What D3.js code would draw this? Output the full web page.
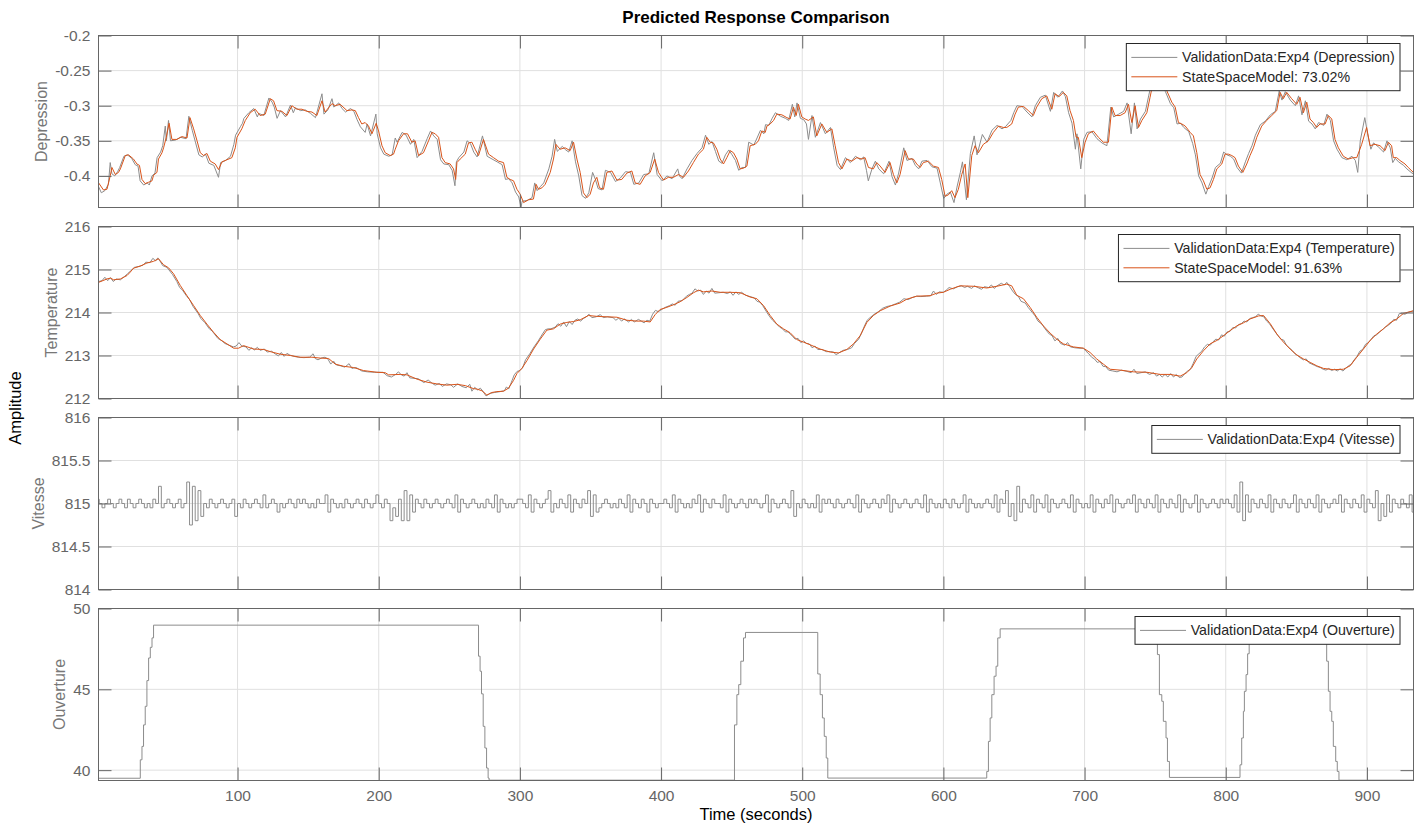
<!DOCTYPE html>
<html>
<head>
<meta charset="utf-8">
<script src="https://cdn.jsdelivr.net/npm/d3@7"></script>
<style>
  body { margin: 0; background: #fff; }
  svg { display: block; font-family: "Liberation Sans", Arial, Helvetica, sans-serif; }
</style>
</head>
<body>
<svg id="chart"></svg>
<script>
// ---- data ([time s, value]) ----
const depressionMeasured = [[1.5,-0.415],[3.5,-0.424],[6,-0.421],[8.5,-0.412],[9.8,-0.381],[11,-0.397],[13,-0.40],[15,-0.394],[16.5,-0.388],[19.5,-0.372],[22,-0.37],[25,-0.375],[27.5,-0.384],[29.5,-0.386],[31,-0.407],[33.5,-0.413],[36,-0.41],[37.5,-0.413],[39.4,-0.400],[41.5,-0.396],[43,-0.374],[45.5,-0.366],[47,-0.357],[48.8,-0.329],[49.6,-0.35],[51.1,-0.321],[52.5,-0.35],[56,-0.349],[59.5,-0.345],[63.5,-0.347],[65.5,-0.315],[67.9,-0.335],[70.3,-0.353],[72.6,-0.37],[75,-0.373],[77.3,-0.369],[79.7,-0.382],[83.2,-0.385],[86.5,-0.402],[88,-0.381],[91.5,-0.378],[95,-0.372],[97.4,-0.355],[98.6,-0.342],[102,-0.33],[103.5,-0.325],[104.5,-0.318],[108,-0.31],[111.5,-0.304],[114,-0.316],[115,-0.311],[118.6,-0.314],[122.2,-0.289],[124.5,-0.295],[126,-0.302],[128,-0.318],[130.4,-0.307],[134,-0.316],[137.5,-0.299],[139.5,-0.31],[141,-0.303],[144.6,-0.307],[148,-0.306],[151.7,-0.311],[155.2,-0.317],[159.8,-0.283],[161.2,-0.312],[164,-0.306],[166.9,-0.29],[168.2,-0.302],[171.7,-0.296],[174,-0.304],[176.5,-0.309],[180,-0.304],[182.4,-0.308],[184.7,-0.32],[187,-0.33],[190.4,-0.338],[191.8,-0.326],[194.2,-0.343],[198,-0.312],[198.9,-0.34],[201.3,-0.36],[203.6,-0.369],[207.1,-0.372],[209.5,-0.37],[211.7,-0.346],[213,-0.352],[216.6,-0.338],[219.4,-0.342],[222.5,-0.355],[224.8,-0.348],[227.2,-0.374],[230.7,-0.365],[234.3,-0.347],[236.7,-0.336],[239,-0.343],[241.4,-0.348],[243.8,-0.377],[246.1,-0.383],[249.6,-0.384],[252,-0.392],[254,-0.414],[255,-0.38],[256.7,-0.374],[260.3,-0.366],[262.6,-0.35],[265,-0.354],[267.3,-0.366],[269.7,-0.373],[273.5,-0.343],[276.8,-0.372],[280.3,-0.376],[283.9,-0.38],[287.4,-0.384],[289.8,-0.405],[292.1,-0.404],[294.5,-0.41],[296.9,-0.423],[299.2,-0.43],[300.8,-0.445],[301.6,-0.436],[305.1,-0.435],[308.6,-0.431],[310.5,-0.41],[312.2,-0.421],[314.6,-0.415],[316.9,-0.41],[320.5,-0.39],[322.8,-0.372],[324.6,-0.348],[326.5,-0.365],[330,-0.358],[332.5,-0.363],[334.6,-0.366],[337,-0.35],[339.4,-0.38],[341.7,-0.4],[344,-0.428],[346.5,-0.432],[348.8,-0.424],[351.5,-0.395],[353.5,-0.405],[355.4,-0.418],[358.2,-0.42],[360.6,-0.392],[364.2,-0.395],[367.7,-0.408],[371.2,-0.403],[374.8,-0.394],[378.3,-0.395],[380.7,-0.412],[384.2,-0.41],[387.7,-0.398],[391.3,-0.397],[394.8,-0.367],[397.2,-0.398],[400.7,-0.407],[404.2,-0.4],[407.8,-0.404],[411.8,-0.39],[413,-0.4],[414.9,-0.404],[418.4,-0.39],[421.9,-0.378],[425.5,-0.368],[429,-0.36],[431.5,-0.342],[433.8,-0.355],[436.1,-0.351],[438.5,-0.365],[440.9,-0.379],[443.2,-0.382],[445.6,-0.37],[448,-0.363],[450.3,-0.37],[452.7,-0.378],[455,-0.392],[457.4,-0.388],[459.8,-0.388],[462.1,-0.352],[465.7,-0.356],[468,-0.346],[470.4,-0.335],[472.8,-0.34],[474,-0.327],[476.3,-0.328],[478.7,-0.318],[481,-0.31],[484.6,-0.315],[488.1,-0.318],[490.4,-0.321],[493,-0.298],[494.7,-0.316],[496.3,-0.296],[498.7,-0.318],[501.1,-0.32],[503,-0.326],[504.4,-0.348],[506.9,-0.314],[509.3,-0.345],[512.9,-0.324],[516.4,-0.34],[520,-0.331],[522.3,-0.36],[524.7,-0.385],[527.1,-0.391],[530.6,-0.374],[534.1,-0.381],[537.7,-0.372],[541.2,-0.377],[543.5,-0.373],[545.5,-0.392],[546.8,-0.407],[549.4,-0.39],[551.8,-0.379],[554.2,-0.39],[557.7,-0.397],[561.5,-0.379],[563.6,-0.401],[566,-0.413],[568.3,-0.396],[571.9,-0.36],[574.2,-0.378],[577.7,-0.375],[580.1,-0.385],[582.5,-0.39],[584.8,-0.379],[588.4,-0.378],[591.9,-0.387],[595.5,-0.389],[597.8,-0.41],[600.2,-0.432],[602.5,-0.426],[604.9,-0.423],[607.5,-0.438],[609.6,-0.416],[612,-0.395],[613.5,-0.38],[616.3,-0.434],[619.1,-0.368],[621.8,-0.343],[623.8,-0.37],[627.6,-0.341],[630.9,-0.352],[634.4,-0.335],[638,-0.328],[641.5,-0.333],[643.9,-0.33],[647.8,-0.321],[649.8,-0.31],[652.1,-0.3],[655.7,-0.301],[659.2,-0.309],[662.7,-0.316],[665.1,-0.3],[668.7,-0.288],[672.2,-0.285],[675.8,-0.308],[678.1,-0.281],[681,-0.288],[684.3,-0.279],[686.4,-0.287],[688.7,-0.31],[691.1,-0.325],[693.5,-0.362],[694.6,-0.34],[697.3,-0.39],[699.4,-0.348],[701.7,-0.338],[705.2,-0.337],[708.8,-0.347],[712.3,-0.353],[715.8,-0.357],[718.6,-0.302],[720.6,-0.316],[724.2,-0.312],[727.7,-0.308],[730.1,-0.296],[733,-0.34],[735.3,-0.296],[737.2,-0.333],[739.6,-0.319],[743.1,-0.308],[745.4,-0.286],[746.6,-0.275],[748,-0.268],[751,-0.264],[754,-0.268],[757.3,-0.28],[760.8,-0.297],[763.2,-0.303],[765.5,-0.326],[767.9,-0.325],[770.3,-0.331],[773.8,-0.337],[776.6,-0.354],[778.5,-0.37],[780.8,-0.4],[783.2,-0.41],[785.9,-0.426],[787.9,-0.415],[790.3,-0.403],[792.7,-0.388],[796.2,-0.382],[798.5,-0.366],[800.9,-0.37],[803.3,-0.372],[805.6,-0.376],[808,-0.388],[811.1,-0.396],[813.9,-0.38],[816.2,-0.368],[818.6,-0.357],[821,-0.342],[824.5,-0.327],[828,-0.322],[831.6,-0.313],[835.1,-0.308],[837.9,-0.279],[839.8,-0.292],[842.2,-0.28],[845.7,-0.292],[849.3,-0.3],[851.6,-0.286],[854,-0.313],[856.4,-0.293],[858.7,-0.322],[861.1,-0.326],[863.4,-0.333],[865.8,-0.324],[869.4,-0.328],[871.7,-0.312],[874.1,-0.321],[876.4,-0.35],[878.8,-0.362],[882.3,-0.374],[885.8,-0.377],[889.4,-0.372],[891.8,-0.378],[893.5,-0.395],[895.3,-0.35],[898.5,-0.317],[900.5,-0.34],[902.8,-0.362],[904.7,-0.353],[908.3,-0.359],[911.8,-0.366],[914.2,-0.35],[916.5,-0.36],[918.3,-0.381],[920.1,-0.375],[922.4,-0.38],[926,-0.385],[928.3,-0.39],[931.9,-0.396],[933,-0.397]];

const depressionModel = [[1.6,-0.41],[5,-0.42],[7.5,-0.419],[9.8,-0.40],[11,-0.388],[13.4,-0.398],[15.7,-0.395],[17,-0.39],[20.5,-0.371],[22.8,-0.37],[26.3,-0.376],[28.7,-0.383],[30.5,-0.385],[32.3,-0.405],[34.6,-0.411],[37,-0.409],[39.4,-0.407],[40.5,-0.399],[42.9,-0.395],[44,-0.376],[46.5,-0.367],[47.6,-0.36],[49.5,-0.345],[51.5,-0.325],[53.5,-0.348],[57,-0.348],[60.6,-0.344],[64.2,-0.346],[66.3,-0.317],[68.9,-0.333],[71.3,-0.35],[73.6,-0.367],[76,-0.371],[78.3,-0.368],[80.7,-0.379],[84.2,-0.383],[86.5,-0.391],[89,-0.38],[92.5,-0.377],[96,-0.374],[98.4,-0.36],[99.6,-0.345],[103,-0.333],[105.5,-0.321],[109,-0.31],[112.5,-0.305],[116,-0.314],[119.6,-0.312],[123.2,-0.29],[125.5,-0.293],[127.9,-0.307],[131.4,-0.308],[135,-0.314],[138.5,-0.30],[142,-0.305],[145.6,-0.305],[149,-0.308],[152.7,-0.309],[156.2,-0.314],[159.8,-0.293],[162,-0.309],[166.9,-0.297],[169.2,-0.30],[172.7,-0.298],[177.5,-0.307],[181,-0.306],[183.4,-0.307],[185.7,-0.317],[188,-0.326],[190.4,-0.324],[192.8,-0.329],[195.2,-0.34],[198.2,-0.325],[199.9,-0.336],[202.3,-0.357],[204.6,-0.367],[208.1,-0.371],[210.5,-0.369],[211.7,-0.362],[214,-0.35],[217.6,-0.34],[220.4,-0.34],[223.5,-0.352],[225.8,-0.35],[228.2,-0.371],[231.7,-0.367],[235.3,-0.35],[237.7,-0.338],[240,-0.34],[242.4,-0.345],[244.8,-0.374],[247.1,-0.381],[250.6,-0.383],[253,-0.39],[254.5,-0.405],[255.4,-0.381],[257.7,-0.376],[261.3,-0.369],[263.6,-0.353],[266,-0.352],[268.3,-0.362],[270.7,-0.371],[274.2,-0.348],[277.8,-0.369],[281.3,-0.374],[284.9,-0.379],[288.4,-0.381],[290.8,-0.402],[293.1,-0.405],[295.5,-0.407],[297.9,-0.419],[300.2,-0.426],[302.6,-0.438],[306.1,-0.434],[309.6,-0.433],[311.5,-0.412],[313.2,-0.419],[315.6,-0.417],[317.9,-0.412],[321.5,-0.395],[323.8,-0.376],[325.5,-0.355],[328.5,-0.362],[332,-0.36],[335.6,-0.364],[338,-0.352],[340.4,-0.376],[342.7,-0.395],[345,-0.424],[347.5,-0.431],[349.8,-0.426],[352.1,-0.41],[354.5,-0.402],[356.4,-0.417],[359.2,-0.419],[361.6,-0.395],[365.2,-0.393],[368.7,-0.406],[372.2,-0.405],[375.8,-0.396],[379.3,-0.393],[381.7,-0.41],[385.2,-0.412],[388.7,-0.40],[392.3,-0.395],[395.5,-0.376],[398.2,-0.395],[401.7,-0.406],[405.2,-0.402],[408.8,-0.402],[412.3,-0.398],[415.9,-0.402],[419.4,-0.393],[422.9,-0.381],[426.5,-0.369],[430,-0.362],[432.4,-0.345],[434.8,-0.352],[437.1,-0.353],[439.5,-0.362],[441.9,-0.376],[444.2,-0.383],[446.6,-0.374],[449,-0.364],[451.3,-0.367],[453.7,-0.376],[456,-0.39],[458.4,-0.389],[460.8,-0.386],[463.1,-0.357],[466.7,-0.355],[469,-0.35],[471.4,-0.336],[473.8,-0.338],[475,-0.329],[477.3,-0.326],[479.7,-0.321],[482,-0.312],[485.6,-0.313],[489.1,-0.317],[491.4,-0.319],[493.8,-0.302],[495.7,-0.314],[497.3,-0.298],[499.7,-0.316],[502.1,-0.319],[504.4,-0.321],[507.9,-0.316],[510.3,-0.343],[513.9,-0.326],[517.4,-0.338],[521,-0.333],[523.3,-0.357],[525.7,-0.381],[528.1,-0.39],[531.6,-0.376],[535.1,-0.379],[538.7,-0.374],[542.2,-0.376],[544.5,-0.374],[546.9,-0.388],[550.4,-0.39],[552.8,-0.381],[555.2,-0.386],[558.7,-0.395],[562.2,-0.381],[564.6,-0.398],[567,-0.41],[569.3,-0.398],[572.9,-0.364],[575.2,-0.376],[578.7,-0.376],[581.1,-0.383],[583.5,-0.388],[585.8,-0.381],[589.4,-0.379],[592.9,-0.386],[596.5,-0.388],[598.8,-0.405],[601.2,-0.429],[603.5,-0.427],[605.9,-0.421],[608.2,-0.431],[610.6,-0.419],[613,-0.398],[615.4,-0.383],[617.3,-0.431],[620.1,-0.371],[622.4,-0.357],[624.8,-0.367],[628.3,-0.355],[631.9,-0.35],[635.4,-0.338],[639,-0.329],[642.5,-0.331],[644.9,-0.331],[648.4,-0.326],[650.8,-0.312],[653.1,-0.302],[656.7,-0.301],[660.2,-0.307],[663.7,-0.314],[666.1,-0.302],[669.7,-0.29],[673.2,-0.286],[676.8,-0.305],[679.1,-0.283],[682,-0.287],[685,-0.281],[687.4,-0.286],[689.7,-0.307],[692.1,-0.321],[694,-0.345],[695.6,-0.345],[698,-0.374],[700.4,-0.352],[702.7,-0.34],[706.2,-0.336],[709.8,-0.345],[713.3,-0.352],[716.9,-0.352],[719.3,-0.302],[721.6,-0.314],[725.2,-0.314],[728.7,-0.31],[731.1,-0.298],[733.5,-0.324],[735.8,-0.30],[738.2,-0.331],[740.6,-0.321],[744.1,-0.31],[746.4,-0.288],[747.6,-0.276],[748.8,-0.269],[752,-0.265],[755,-0.268],[758.3,-0.279],[761.8,-0.295],[764.2,-0.302],[766.5,-0.324],[768.9,-0.326],[771.3,-0.329],[774.8,-0.338],[777.1,-0.343],[779.5,-0.367],[781.8,-0.398],[784.2,-0.407],[786.6,-0.419],[788.9,-0.417],[791.3,-0.405],[793.7,-0.39],[797.2,-0.383],[799.5,-0.369],[801.9,-0.369],[804.3,-0.371],[806.6,-0.374],[809,-0.386],[812.1,-0.395],[814.9,-0.383],[817.2,-0.371],[819.6,-0.36],[822,-0.345],[825.5,-0.329],[829,-0.321],[832.6,-0.314],[836.1,-0.307],[838.5,-0.281],[840.8,-0.29],[843.2,-0.281],[846.7,-0.29],[850.3,-0.298],[852.6,-0.288],[855,-0.31],[857.4,-0.295],[859.7,-0.319],[862.1,-0.324],[864.4,-0.331],[866.8,-0.326],[870.4,-0.326],[872.7,-0.314],[875.1,-0.319],[877.4,-0.348],[879.8,-0.36],[883.3,-0.372],[886.8,-0.376],[890.4,-0.374],[892.8,-0.374],[896.3,-0.355],[899.8,-0.331],[902.2,-0.357],[905.7,-0.355],[909.3,-0.357],[912.8,-0.364],[915.2,-0.352],[917.5,-0.357],[918.7,-0.374],[921.1,-0.374],[923.4,-0.378],[927,-0.383],[929.3,-0.388],[932.9,-0.395]];

const temperatureMeasured = [[1.5,214.72],[4,214.74],[6,214.82],[8,214.74],[10,214.81],[12,214.72],[14,214.78],[17,214.76],[20,214.84],[22,214.9],[24,214.96],[27,215.05],[30,215.07],[33,215.1],[35,215.17],[38,215.16],[40,215.26],[42,215.2],[43.5,215.27],[45,215.2],[47,215.09],[50,215.05],[54,214.88],[57,214.72],[59,214.58],[61,214.52],[63.5,214.4],[66,214.3],[68.5,214.14],[72,213.98],[74,213.86],[77,213.76],[80,213.62],[82,213.57],[86,213.4],[89,213.34],[91,213.28],[94,213.24],[97,213.2],[99,213.22],[101,213.3],[103,213.22],[106,213.2],[108,213.12],[110,213.18],[112,213.13],[114,213.19],[116,213.12],[119,213.15],[121,213.08],[124,213.1],[127,213.03],[129,212.99],[131,213.07],[133,212.98],[135,213.05],[137,213.01],[140,212.98],[143,212.96],[147,212.95],[151,212.96],[153.5,213.04],[155,212.93],[157,212.9],[160,212.95],[162,212.96],[164,212.92],[166,212.8],[168,212.87],[170,212.78],[173,212.76],[176,212.73],[179,212.81],[181,212.7],[184,212.72],[188,212.64],[192,212.62],[197,212.61],[203,212.61],[206,212.53],[209,212.5],[212,212.56],[214,212.62],[216,212.55],[218,212.52],[220,212.6],[222,212.48],[225,212.47],[228,212.46],[232,212.37],[235,212.43],[238,212.35],[240,212.31],[243,212.35],[245,212.28],[248,212.34],[251,212.32],[253,212.26],[256,212.34],[259,212.28],[262,212.25],[264.5,212.33],[266,212.17],[268,212.26],[270,212.2],[272,212.24],[274,212.16],[276,212.06],[279,212.12],[282,212.14],[286,212.16],[289,212.18],[290.5,212.27],[292,212.22],[294,212.38],[296,212.55],[298,212.63],[300,212.65],[302,212.72],[304,212.9],[307,213.04],[310,213.2],[313,213.34],[316,213.5],[318,213.6],[320,213.62],[322,213.62],[325,213.66],[327,213.74],[329,213.68],[331,213.78],[333,213.67],[335,213.79],[337,213.72],[339,213.82],[341,213.85],[343,213.8],[345,213.86],[347,213.9],[349,213.96],[351,213.88],[354,213.9],[357,213.95],[359,213.88],[362,213.9],[366,213.88],[368,213.82],[370,213.87],[372,213.8],[374,213.85],[377,213.78],[379,213.84],[381,213.78],[384,213.84],[386,213.8],[388,213.76],[390,213.82],[392,213.8],[394,213.96],[396,214.05],[398,214.02],[401,214.08],[403,214.12],[406,214.16],[408,214.2],[410,214.17],[412,214.26],[415,214.28],[418,214.38],[420,214.42],[422,214.45],[424,214.55],[426,214.5],[428,214.52],[430,214.42],[432,214.5],[434,214.45],[436,214.56],[438,214.45],[441,214.46],[444,214.47],[447,214.44],[449,214.48],[451,214.4],[453,214.48],[455,214.42],[457,214.47],[460,214.4],[463,214.37],[466,214.34],[468,214.26],[470,214.24],[472,214.16],[475,214.0],[477,213.9],[479,213.82],[481,213.76],[484,213.66],[486,213.62],[488,213.55],[490,213.55],[493,213.45],[495,213.38],[497,213.4],[499,213.3],[501,213.34],[503,213.28],[505,213.27],[507,213.18],[509,213.22],[511,213.14],[514,213.14],[517,213.09],[520,213.09],[522,213.08],[524,213.02],[526,213.06],[529,213.12],[532,213.14],[535,213.18],[537,213.28],[540,213.38],[542,213.52],[544,213.68],[546,213.82],[548,213.88],[551,213.96],[554,214.02],[557,214.1],[560,214.14],[563,214.16],[566,214.2],[569,214.24],[572,214.32],[575,214.3],[578,214.35],[581,214.38],[584,214.37],[588,214.38],[591,214.39],[593,214.5],[595,214.42],[597,214.48],[600,214.47],[602,214.52],[604,214.58],[607,214.55],[610,214.6],[613,214.62],[615,214.58],[617,214.61],[620,214.56],[622,214.62],[625,214.57],[627,214.54],[629,214.6],[632,214.58],[634,214.64],[636,214.56],[638,214.62],[641,214.68],[643,214.64],[645,214.7],[647,214.6],[649,214.5],[651,214.42],[653,214.38],[655,214.26],[658,214.22],[660,214.12],[663,214.0],[665,213.92],[667,213.8],[670,213.72],[672,213.62],[675,213.5],[677,213.46],[679,213.34],[681,213.4],[683,213.28],[686,213.24],[688,213.3],[690,213.2],[693,213.18],[696,213.17],[699,213.17],[701,213.1],[703,213.04],[705,212.96],[707,212.92],[709,212.84],[711,212.86],[713,212.75],[715,212.74],[717,212.66],[720,212.64],[723,212.62],[726,212.66],[730,212.63],[733,212.6],[735,212.68],[737,212.58],[740,212.6],[743,212.62],[746,212.56],[749,212.6],[751,212.52],[753,212.56],[755,212.5],[757,212.56],[759,212.5],[761,212.58],[763,212.5],[765,212.56],[767,212.49],[769,212.5],[771,212.58],[773,212.64],[775,212.68],[777,212.82],[779,212.98],[781,213.04],[783,213.1],[785,213.2],[787,213.26],[789,213.24],[791,213.32],[793,213.38],[795,213.36],[797,213.48],[799,213.45],[801,213.55],[803,213.56],[805,213.65],[807,213.64],[809,213.72],[811,213.74],[813,213.8],[815,213.78],[817,213.86],[819,213.88],[821,213.9],[823,213.96],[825,213.92],[827,213.9],[829,213.8],[831,213.74],[833,213.64],[835,213.55],[837,213.46],[839,213.38],[841,213.36],[843,213.24],[845,213.18],[847,213.12],[849,213.04],[851,213.0],[853,212.94],[855,212.9],[857,212.92],[859,212.83],[861,212.8],[863,212.77],[865,212.74],[867,212.72],[869,212.68],[871,212.66],[873,212.7],[875,212.65],[877,212.68],[879,212.64],[881,212.69],[883,212.64],[885,212.7],[887,212.76],[889,212.8],[891,212.9],[893,212.98],[895,213.1],[897,213.14],[899,213.26],[901,213.3],[903,213.38],[905,213.46],[907,213.48],[909,213.55],[911,213.6],[913,213.66],[915,213.7],[917,213.75],[919,213.84],[921,213.82],[923,213.98],[925,213.97],[927,213.96],[929,214.0],[931,214.02],[933,214.04]];

const temperatureModel = [[1.5,214.70],[7.5,214.78],[10,214.80],[12.2,214.76],[17,214.78],[21.7,214.86],[24,214.94],[26.3,215.03],[31.1,215.08],[35.8,215.15],[40.5,215.19],[44,215.25],[47.6,215.11],[51.1,215.04],[54.7,214.90],[59.4,214.63],[64.2,214.39],[68.9,214.16],[73.6,213.93],[78.3,213.73],[83,213.54],[87.7,213.37],[92.5,213.27],[97.2,213.17],[100.7,213.17],[104.3,213.23],[111.4,213.15],[118.5,213.14],[123.2,213.09],[130.3,213.03],[137.4,213.0],[144.4,212.96],[152.7,212.96],[158.6,212.94],[164.5,212.93],[169.2,212.80],[175.1,212.75],[182.2,212.72],[189.2,212.65],[198.7,212.61],[204.6,212.60],[207,212.55],[215.2,212.56],[220,212.55],[227.1,212.45],[234.2,212.38],[241.2,212.34],[248.3,212.31],[255.4,212.33],[261.3,212.30],[267.1,212.23],[269.5,212.22],[273.1,212.18],[276.6,212.08],[280.2,212.14],[283.7,212.16],[288.4,212.17],[291.9,212.24],[295.5,212.42],[297.9,212.58],[301.4,212.70],[305,212.88],[309.7,213.15],[314.4,213.38],[319.1,213.59],[323.8,213.62],[328.5,213.73],[333.3,213.77],[338,213.79],[342.7,213.83],[348.6,213.93],[354.5,213.91],[361.6,213.90],[368.7,213.89],[375.8,213.82],[382.9,213.80],[387.5,213.80],[392.3,213.78],[395.8,213.95],[399.3,214.07],[404.1,214.12],[408.8,214.18],[413.5,214.25],[418.3,214.35],[423,214.46],[426.5,214.52],[430,214.48],[436,214.50],[441.9,214.47],[449,214.47],[456.1,214.46],[463.1,214.36],[467.9,214.32],[472.6,214.16],[477.3,213.93],[482,213.73],[486.7,213.62],[491.4,213.53],[496.2,213.37],[500.9,213.31],[505.6,213.25],[512.7,213.15],[519.8,213.08],[525.7,213.06],[531.6,213.14],[536.3,213.27],[541,213.46],[545.8,213.77],[550.4,213.93],[555.2,214.04],[562.3,214.15],[569.3,214.22],[574.1,214.31],[581.2,214.38],[590.6,214.39],[595.3,214.45],[600,214.47],[604.8,214.54],[611.8,214.62],[621.3,214.61],[630.7,214.57],[637.8,214.61],[644.9,214.66],[648.4,214.62],[652,214.40],[656.7,214.32],[661.4,214.12],[666.1,213.89],[670.8,213.69],[675.6,213.52],[680.3,213.38],[685,213.27],[692.1,213.20],[699.2,213.17],[703.9,213.07],[708.6,212.92],[713.3,212.80],[718.1,212.68],[725.2,212.66],[734.6,212.62],[744.1,212.61],[753.5,212.56],[760.6,212.56],[767.7,212.52],[772.4,212.60],[776,212.72],[779.5,212.92],[784.2,213.11],[788.9,213.27],[793.7,213.35],[798.4,213.46],[803.1,213.58],[807.9,213.69],[812.6,213.76],[817.3,213.85],[823.2,213.92],[826.8,213.93],[831.5,213.74],[836.2,213.50],[840.9,213.31],[845.6,213.15],[850.4,213.01],[855.1,212.92],[859.8,212.84],[864.5,212.76],[869.2,212.70],[876.3,212.67],[883.3,212.68],[888.1,212.76],[892.8,212.96],[897.5,213.15],[902.3,213.35],[907,213.50],[911.7,213.62],[916.4,213.76],[921.2,213.85],[925.9,213.98],[933,214.04]];

// Vitesse: one character per 2 s sample, hex digit d -> 814.75 + 0.05*d  ('5' = 815)
const vitesseStart = 0;
const vitesseStep = 2;
const vitesseCodes = [
  "6545654565" + "4654565454" + "6594565456" + "45a0918254" + "6545654562",
  "5465456547" + "4565354565" + "4656545465" + "5736545465" + "4565465457",
  "5465142618" + "1736546545" + "6545654736" + "5456545465" + "4736545456",
  "6547365456" + "8354654736" + "5465827345" + "6545465473" + "6546536545",
  "5654736545" + "4657365465" + "5473654565" + "4656545736" + "5456548254",
  "6545473656" + "5465456547" + "3654565465" + "7365456545" + "6547365454",
  "6546545736" + "5454565473" + "6582519365" + "4736547365" + "4565473654",
  "5473654657" + "3654565736" + "5465473654" + "6547365457" + "3654565465",
  "65473a1736" + "5465473654" + "6545736546" + "5473654565" + "7365465473",
  "6548152736" + "5465473654"
];

// Ouverture: stair steps [time s, value]
const ouverture = [[1.5,39.5],[31.1,40.64],[32.3,41.47],[33.4,42.8],[34.6,43.95],[35.8,45.54],[37.0,46.94],[38.2,47.6],[39.4,48.18],[40.5,48.97],[270.7,47.05],[271.8,46.12],[272.8,44.72],[274.0,42.71],[275.2,41.37],[276.4,40.13],[277.5,39.51],[278.2,39.38],[452,42.8],[453.7,44.67],[455.0,45.29],[456.5,46.74],[458.4,48.18],[459.8,48.52],[511,45.95],[512.7,44.67],[514.3,43.23],[515.6,42.09],[517,40.75],[518.1,39.51],[630.7,39.92],[631.9,41.78],[633.1,43.23],[634.3,44.67],[635.9,45.81],[637.3,46.43],[638.5,48.18],[640.2,48.74],[751.6,47.15],[753,44.67],[754.7,44.26],[755.8,43.02],[757.7,41.99],[758.7,40.54],[760.1,39.55],[810.1,40.33],[811.3,41.99],[812.5,43.64],[813.2,44.88],[814.4,45.91],[815.5,47.2],[816.6,48.3],[817.5,48.7],[871.5,46.74],[872.7,44.88],[873.9,43.64],[875.1,43.02],[876.2,41.47],[877.9,40.54],[879,39.92],[880.2,39.38],[933,39.38]];

const timeTicks = [100, 200, 300, 400, 500, 600, 700, 800, 900];
const depressionTicks = [-0.4, -0.35, -0.3, -0.25, -0.2];
const temperatureTicks = [212, 213, 214, 215, 216];
const vitesseTicks = [814, 814.5, 815, 815.5, 816];
const ouvertureTicks = [40, 45, 50];

const vitesse = [];
vitesseCodes.join("").split("").forEach((c, i) => {
    vitesse.push([vitesseStart + i * vitesseStep, 814.75 + 0.05 * parseInt(c, 16)]);
});

// ---- layout ----
const width = 1424, height = 831;
const left = 98.5, right = 1413.5, panelH = 172, panelStep = 191;
const firstTop = 35.5;
const gray = "#8c8c8c", orange = "#d95319";
const axisColor = "#666666", gridColor = "#e0e0e0";
const tickLen = 13;

const svg = d3.select("#chart").attr("width", width).attr("height", height);

const x = d3.scaleLinear().domain([1.5, 933]).range([left, right]);

const panels = [
    { label: "Depression", domain: [-0.445, -0.2], ticks: depressionTicks,
      series: [{ data: depressionMeasured, color: gray, name: "ValidationData:Exp4 (Depression)" },
               { data: depressionModel, color: orange, name: "StateSpaceModel: 73.02%" }] },
    { label: "Temperature", domain: [212, 216], ticks: temperatureTicks,
      series: [{ data: temperatureMeasured, color: gray, name: "ValidationData:Exp4 (Temperature)" },
               { data: temperatureModel, color: orange, name: "StateSpaceModel: 91.63%" }] },
    { label: "Vitesse", domain: [814, 816], ticks: vitesseTicks, step: true,
      series: [{ data: vitesse, color: gray, name: "ValidationData:Exp4 (Vitesse)" }] },
    { label: "Ouverture", domain: [39.36, 50], ticks: ouvertureTicks, step: true,
      series: [{ data: ouverture, color: gray, name: "ValidationData:Exp4 (Ouverture)" }] }
];

// title and shared labels
svg.append("text")
    .attr("x", (left + right) / 2).attr("y", 22.5)
    .attr("text-anchor", "middle")
    .attr("font-size", "17px").attr("font-weight", "bold").attr("fill", "#000")
    .text("Predicted Response Comparison");

svg.append("text")
    .attr("transform", "translate(20.5," + ((firstTop + 3 * panelStep + panelH + firstTop) / 2) + ") rotate(-90)")
    .attr("text-anchor", "middle")
    .attr("font-size", "16.5px").attr("fill", "#000")
    .text("Amplitude");

svg.append("text")
    .attr("x", (left + right) / 2).attr("y", 820)
    .attr("text-anchor", "middle")
    .attr("font-size", "16.5px").attr("fill", "#000")
    .text("Time (seconds)");

panels.forEach((p, i) => {
    const top = firstTop + i * panelStep;
    const bottom = top + panelH;
    const y = d3.scaleLinear().domain(p.domain).range([bottom, top]);
    const g = svg.append("g");
    const isLast = i === panels.length - 1;

    // grid
    g.append("g").selectAll("line").data(timeTicks).enter().append("line")
        .attr("x1", d => x(d)).attr("x2", d => x(d))
        .attr("y1", top).attr("y2", bottom)
        .attr("stroke", gridColor).attr("stroke-width", 1);
    g.append("g").selectAll("line").data(p.ticks).enter().append("line")
        .attr("x1", left).attr("x2", right)
        .attr("y1", d => y(d)).attr("y2", d => y(d))
        .attr("stroke", gridColor).attr("stroke-width", 1);

    // clipped lines
    const clipId = "clip" + i;
    svg.append("clipPath").attr("id", clipId).append("rect")
        .attr("x", left).attr("y", top).attr("width", right - left).attr("height", panelH);

    const line = d3.line().x(d => x(d[0])).y(d => y(d[1]));
    if (p.step) line.curve(d3.curveStepAfter);

    const lines = g.append("g").attr("clip-path", "url(#" + clipId + ")");
    p.series.forEach(s => {
        lines.append("path")
            .datum(s.data)
            .attr("fill", "none")
            .attr("stroke", s.color)
            .attr("stroke-width", 1)
            .attr("d", line);
    });

    // axes with inward ticks
    const yl = g.append("g").attr("transform", "translate(" + left + ",0)")
        .call(d3.axisLeft(y).tickValues(p.ticks).tickSizeInner(-tickLen).tickSizeOuter(0)
              .tickPadding(8).tickFormat(d => String(d)));
    const yr = g.append("g").attr("transform", "translate(" + right + ",0)")
        .call(d3.axisRight(y).tickValues(p.ticks).tickSizeInner(-tickLen).tickSizeOuter(0).tickFormat(""));
    const xt = g.append("g").attr("transform", "translate(0," + top + ")")
        .call(d3.axisTop(x).tickValues(timeTicks).tickSizeInner(-tickLen).tickSizeOuter(0).tickFormat(""));
    const xb = g.append("g").attr("transform", "translate(0," + bottom + ")")
        .call(d3.axisBottom(x).tickValues(timeTicks).tickSizeInner(-tickLen).tickSizeOuter(0)
              .tickPadding(9).tickFormat(isLast ? (d => String(d)) : ""));

    [yl, yr, xt, xb].forEach(a => {
        a.select(".domain").remove();
        a.selectAll("line").attr("stroke", axisColor);
        a.selectAll("text").attr("fill", axisColor)
            .attr("font-size", "15.5px")
            .attr("font-family", "'Liberation Sans', Arial, Helvetica, sans-serif");
    });

    // box
    g.append("rect")
        .attr("x", left).attr("y", top).attr("width", right - left).attr("height", panelH)
        .attr("fill", "none").attr("stroke", axisColor).attr("stroke-width", 1);

    // y label next to widest tick label
    let minLeft = Infinity;
    yl.selectAll("text").each(function() {
        const b = this.getBBox();
        minLeft = Math.min(minLeft, left + b.x);
    });
    g.append("text")
        .attr("transform", "translate(" + (minLeft - 8) + "," + ((top + bottom) / 2) + ") rotate(-90)")
        .attr("text-anchor", "middle")
        .attr("font-size", "16px").attr("fill", "#777777")
        .text(p.label);

    // legend
    const rowH = 19.4, pad = 4.2;
    const lg = g.append("g");
    const box = lg.append("rect")
        .attr("fill", "#fff").attr("stroke", "#262626").attr("stroke-width", 1);
    let maxW = 0;
    const texts = p.series.map((s, k) => {
        const t = lg.append("text")
            .attr("y", top + 8 + pad + rowH * k + rowH / 2)
            .attr("dy", "0.35em")
            .attr("font-size", "14.2px").attr("fill", "#262626")
            .text(s.name);
        maxW = Math.max(maxW, t.node().getComputedTextLength());
        return t;
    });
    const boxW = 5 + 46 + 4.7 + maxW + 5.3;
    const boxX = 1400 - boxW;
    box.attr("x", boxX).attr("y", top + 8)
        .attr("width", boxW).attr("height", pad * 2 + rowH * p.series.length);
    p.series.forEach((s, k) => {
        const cy = top + 8 + pad + rowH * k + rowH / 2;
        lg.append("line")
            .attr("x1", boxX + 5).attr("x2", boxX + 51)
            .attr("y1", cy).attr("y2", cy)
            .attr("stroke", s.color).attr("stroke-width", 1);
        texts[k].attr("x", boxX + 55.7);
    });
});
</script>
</body>
</html>
